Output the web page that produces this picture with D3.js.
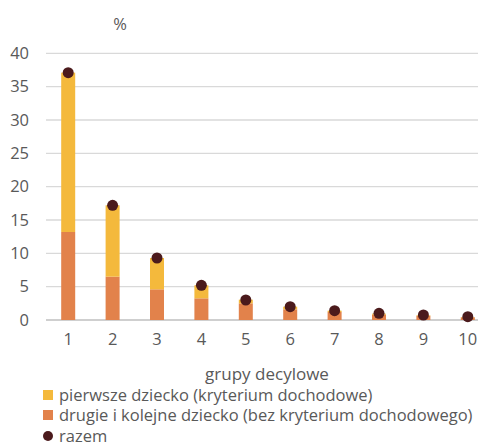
<!DOCTYPE html>
<html><head><meta charset="utf-8">
<script src="https://cdn.jsdelivr.net/npm/d3@7"></script>
<style>body{margin:0;background:#fff;font-family:Calibri,Carlito,"Open Sans",sans-serif;}</style>
</head><body><svg id="c" width="478" height="444"></svg>
<script>
const categories = ["1","2","3","4","5","6","7","8","9","10"];
const drugie = [13.2, 6.5, 4.6, 3.25, 2.5, 1.6, 1.2, 0.8, 0.6, 0.4];
const pierwsze = [23.9, 10.7, 4.7, 1.95, 0.55, 0.4, 0.2, 0.15, 0.1, 0.05];
const razem = [37.1, 17.2, 9.3, 5.2, 3.0, 2.0, 1.4, 1.0, 0.75, 0.5];
const yTicks = [0,5,10,15,20,25,30,35,40];
const seriesNames = ["pierwsze dziecko (kryterium dochodowe)","drugie i kolejne dziecko (bez kryterium dochodowego)","razem"];
const colors = {pierwsze:"#F4B93C", drugie:"#E2824B", razem:"#4B1A1C"};

const svg = d3.select("#c");
const font = "'Open Sans', sans-serif";
const x = d3.scaleBand().domain(categories).range([46, 490]).paddingInner(0.68).paddingOuter(0.34);
const y = d3.scaleLinear().domain([0,40]).range([320, 53.3]);

svg.append("g").selectAll("line").data(yTicks).join("line")
  .attr("x1",46).attr("x2",478).attr("y1",d=>y(d)).attr("y2",d=>y(d))
  .attr("stroke",d=>d===0?"#cfcfcf":"#d9d9d9").attr("stroke-width",d=>d===0?2:1.3);

const yAxis = d3.axisLeft(y).tickValues(yTicks).tickSize(0).tickPadding(0);
const gy = svg.append("g").attr("transform","translate(29,0)").call(yAxis);
gy.select(".domain").remove();
gy.selectAll("text").attr("fill","#595959").style("font-size","16.5px").style("font-family",font);

const xAxis = d3.axisBottom(x).tickSize(0).tickPadding(0);
const gx = svg.append("g").attr("transform","translate(0,333)").call(xAxis);
gx.select(".domain").remove();
gx.selectAll("text").attr("fill","#595959").style("font-size","16.5px").style("font-family",font);

const bw = 14;
svg.append("g").selectAll("rect").data(categories).join("rect")
  .attr("x",d=>x(d)+x.bandwidth()/2-bw/2).attr("width",bw)
  .attr("y",(d,i)=>y(drugie[i])).attr("height",(d,i)=>y(0)-y(drugie[i]))
  .attr("fill",colors.drugie);
svg.append("g").selectAll("rect").data(categories).join("rect")
  .attr("x",d=>x(d)+x.bandwidth()/2-bw/2).attr("width",bw)
  .attr("y",(d,i)=>y(drugie[i]+pierwsze[i])).attr("height",(d,i)=>y(drugie[i])-y(drugie[i]+pierwsze[i]))
  .attr("fill",colors.pierwsze);
svg.append("g").selectAll("circle").data(categories).join("circle")
  .attr("cx",d=>x(d)+x.bandwidth()/2).attr("cy",(d,i)=>y(razem[i])).attr("r",5.5)
  .attr("fill",colors.razem);

svg.append("text").attr("x",120).attr("y",30).attr("text-anchor","middle")
  .attr("fill","#595959").style("font-size","16.5px").style("font-family",font).text("%");
svg.append("text").attr("x",267).attr("y",380).attr("text-anchor","middle")
  .attr("fill","#595959").style("font-size","17px").style("font-family",font).text("grupy decylowe");

const ly = [395, 415, 436];
const lg = svg.append("g");
lg.append("rect").attr("x",43).attr("y",ly[0]-5).attr("width",10).attr("height",10).attr("fill",colors.pierwsze);
lg.append("rect").attr("x",43).attr("y",ly[1]-5).attr("width",10).attr("height",10).attr("fill",colors.drugie);
lg.append("circle").attr("cx",48).attr("cy",ly[2]).attr("r",5).attr("fill",colors.razem);
seriesNames.forEach((n,i)=>{
  lg.append("text").attr("x",59).attr("y",ly[i]).attr("dy","0.35em")
    .attr("fill","#595959").style("font-size","16.5px").style("font-family",font).text(n);
});
</script></body></html>
